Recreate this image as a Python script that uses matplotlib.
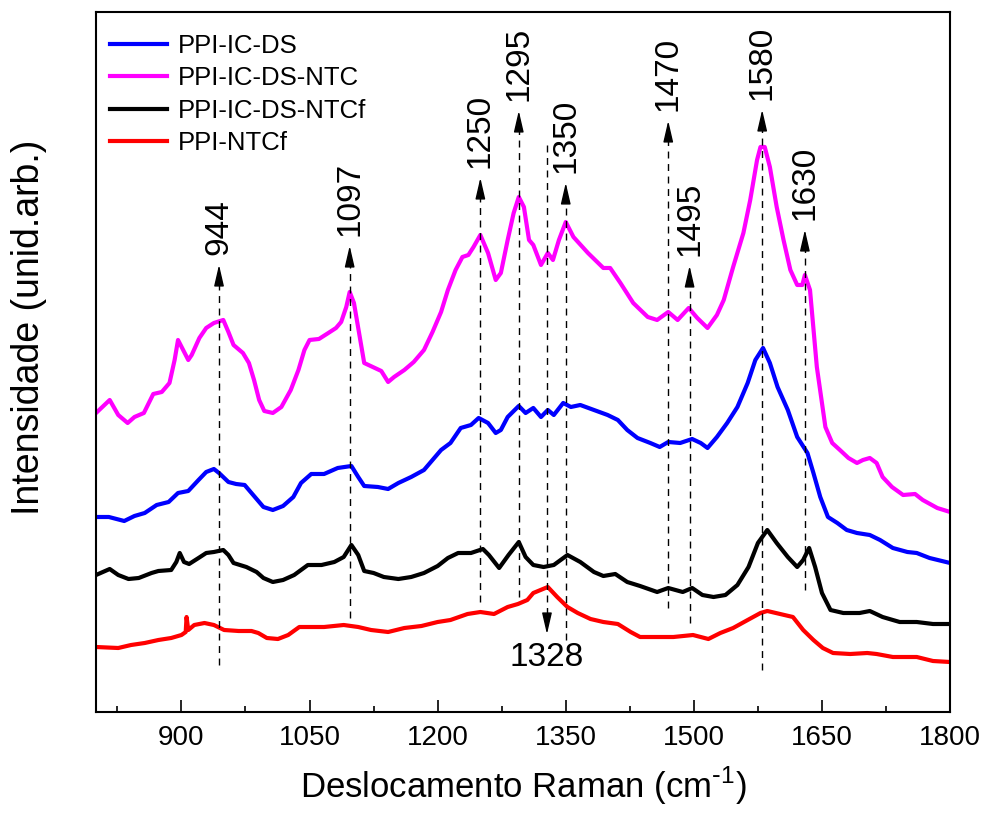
import numpy as np
import matplotlib
matplotlib.use('Agg')
import matplotlib.pyplot as plt

plt.rcParams['font.family'] = ['Liberation Sans', 'DejaVu Sans']

# Raman spectra (intensity in arbitrary units, offset stacked)
wn_ntc = [800, 816, 826, 837, 845, 856, 867, 877, 886, 892, 896, 902, 908, 912, 921, 929, 938, 949,
          955, 961, 972, 979, 985, 991, 997, 1007, 1017, 1028, 1037, 1044, 1050, 1061, 1072, 1081,
          1087, 1093, 1097, 1102, 1108, 1114, 1124, 1134, 1142, 1149, 1161, 1172, 1184, 1194, 1204,
          1212, 1221, 1229, 1236, 1242, 1250, 1259, 1268, 1274, 1282, 1289, 1295, 1301, 1307, 1312,
          1321, 1329, 1335, 1342, 1350, 1359, 1376, 1394, 1402, 1414, 1429, 1446, 1457, 1470, 1481,
          1494, 1504, 1516, 1527, 1535, 1546, 1558, 1566, 1574, 1578, 1583, 1589, 1597, 1605, 1613,
          1621, 1627, 1630, 1636, 1644, 1654, 1662, 1671, 1681, 1691, 1698, 1706, 1714, 1721, 1732,
          1745, 1759, 1768, 1785, 1800]
i_ntc = [299, 312, 297, 289, 295, 299, 318, 320, 329, 352, 372, 362, 352, 357, 374, 384, 389, 392,
         380, 367, 359, 349, 332, 312, 301, 299, 305, 322, 342, 362, 372, 373, 379, 384,
         390, 405, 420, 409, 379, 349, 345, 341, 330, 335, 342, 350, 362, 380, 400,
         422, 442, 455, 457, 465, 477, 459, 432, 439, 472, 499, 515, 505, 472, 467,
         447, 459, 452, 472, 490, 475, 459, 444, 444, 429, 409, 395, 392, 400, 392,
         404, 394, 384, 397, 412, 445, 479, 512, 552, 565, 565, 545, 505, 472, 442,
         427, 427, 437, 422, 345, 285, 269, 262, 254, 249, 252, 254, 249, 235, 225,
         217, 218, 212, 204, 200]

wn_ds = [800, 815, 833, 845, 857, 871, 885, 896, 908, 920, 929, 938, 944, 955, 964, 974, 985, 996,
         1007, 1019, 1031, 1040, 1052, 1067, 1083, 1099, 1107, 1114, 1130, 1142, 1154, 1169, 1184,
         1204, 1215, 1227, 1239, 1248, 1259, 1268, 1274, 1282, 1295, 1303, 1312, 1321, 1329, 1336,
         1347, 1356, 1367, 1383, 1399, 1411, 1422, 1434, 1449, 1460, 1470, 1484, 1498, 1508, 1516,
         1527, 1539, 1551, 1563, 1572, 1581, 1589, 1598, 1610, 1621, 1633, 1640, 1648, 1657, 1668,
         1679, 1691, 1706, 1718, 1733, 1750, 1761, 1776, 1800]
i_ds = [195, 195, 191, 196, 199, 207, 210, 219, 221, 232, 240, 243, 239, 230, 228, 227, 216, 205,
        202, 206, 215, 229, 238, 238, 244, 246, 235, 226, 225, 223, 229, 235, 242,
        262, 269, 284, 287, 294, 289, 279, 282, 295, 306, 299, 304, 295, 302, 297,
        309, 305, 307, 302, 297, 292, 282, 274, 269, 265, 270, 269, 273, 269, 264,
        275, 289, 305, 329, 352, 364, 349, 325, 302, 275, 259, 239, 215, 195, 189,
        182, 179, 177, 172, 164, 160, 159, 154, 149]

wn_ntcf = [800, 816, 826, 838, 850, 865, 873, 888, 894, 898, 903, 909, 920, 929, 938, 949, 955, 961,
           976, 988, 996, 1007, 1019, 1032, 1048, 1064, 1079, 1090, 1099, 1107, 1114, 1125, 1137,
           1154, 1169, 1184, 1200, 1212, 1224, 1239, 1253, 1260, 1272, 1283, 1295, 1303, 1312, 1324,
           1336, 1352, 1367, 1383, 1394, 1408, 1422, 1437, 1457, 1470, 1487, 1498, 1510, 1523, 1537,
           1551, 1564, 1575, 1586, 1597, 1610, 1621, 1628, 1635, 1642, 1650, 1660, 1675, 1694, 1706,
           1721, 1741, 1761, 1780, 1800]
i_ntcf = [137, 143, 137, 133, 134, 139, 141, 142, 150, 159, 150, 148, 154, 159, 160, 162, 157, 149,
          145, 140, 134, 130, 132, 137, 147, 147, 150, 155, 167, 157, 141, 139, 135,
          133, 135, 139, 146, 154, 159, 159, 163, 157, 144, 157, 170, 155, 147, 145,
          147, 157, 150, 140, 136, 138, 130, 126, 120, 124, 120, 124, 117, 115, 117,
          127, 145, 169, 182, 169, 155, 145, 152, 164, 145, 119, 102, 99, 99, 101,
          95, 90, 90, 88, 88]

wn_ppi = [800, 826, 841, 857, 873, 888, 900, 905, 906, 908, 915, 927, 938, 950, 967, 982, 990, 1000,
          1013, 1025, 1038, 1052, 1067, 1090, 1107, 1122, 1142, 1161, 1181, 1200, 1215, 1235, 1250,
          1266, 1282, 1294, 1305, 1312, 1329, 1340, 1352, 1364, 1379, 1394, 1411, 1426, 1437, 1457,
          1476, 1499, 1517, 1531, 1546, 1563, 1578, 1586, 1601, 1616, 1628, 1640, 1651, 1663, 1683,
          1703, 1714, 1733, 1761, 1780, 1800]
i_ppi = [65, 64, 67, 69, 72, 74, 77, 80, 95, 82, 87, 89, 87, 82, 81, 81, 79, 74,
         73, 77, 85, 85, 85, 87, 85, 82, 80, 84, 86, 90, 92, 98, 100,
         98, 105, 108, 112, 119, 125, 115, 105, 99, 93, 90, 88, 80, 75, 75,
         75, 77, 73, 79, 84, 92, 99, 101, 98, 95, 82, 72, 64, 59, 58,
         59, 58, 55, 55, 51, 50]

# peak markers: position, dashed line bottom, arrow tip
peak_pos = [944, 1097, 1250, 1295, 1350, 1470, 1495, 1580, 1630]
peak_low = [47, 94, 110, 115, 72, 104, 89, 42, 122]
peak_tip = [450, 469, 537, 604, 532, 594, 449, 605, 485]

fig = plt.figure(figsize=(9.83, 8.14), dpi=100)
ax = fig.add_axes([0.0977, 0.1253, 0.8688, 0.86])

ax.plot(wn_ds, i_ds, color='#0000ff', lw=3.0, label='PPI-IC-DS')
ax.plot(wn_ntc, i_ntc, color='#ff00ff', lw=3.0, label='PPI-IC-DS-NTC')
ax.plot(wn_ntcf, i_ntcf, color='black', lw=3.0, label='PPI-IC-DS-NTCf')
ax.plot(wn_ppi, i_ppi, color='#ff0000', lw=3.0, label='PPI-NTCf')

dash = (0, (5, 4))
for p, lo, tip in zip(peak_pos, peak_low, peak_tip):
    ax.plot([p, p], [lo, tip - 14], color='black', lw=1.0, linestyle=dash)
    ax.annotate('', xy=(p, tip), xytext=(p, tip - 16),
                arrowprops=dict(arrowstyle='-|>,head_length=1.3,head_width=0.3',
                                color='black', lw=1, mutation_scale=10))
    ax.text(p, tip + 7, str(p), rotation=90, ha='center', va='bottom', fontsize=24)

# 1328 points downwards
ax.plot([1328, 1328], [567, 75 + 14], color='black', lw=1.0, linestyle=dash)
ax.annotate('', xy=(1328, 75), xytext=(1328, 75 + 16),
            arrowprops=dict(arrowstyle='-|>,head_length=1.3,head_width=0.3',
                            color='black', lw=1, mutation_scale=10))
ax.text(1328, 70, '1328', ha='center', va='top', fontsize=24)

ax.set_xlim(800, 1800)
ax.set_ylim(0, 700)
ax.set_xticks(np.arange(900, 1801, 150))
ax.set_xticks(np.arange(825, 1800, 150), minor=True)
ax.set_yticks([])
ax.tick_params(axis='x', which='major', direction='in', length=8.5, width=1.2,
               labelsize=20, pad=9)
ax.tick_params(axis='x', which='minor', direction='in', length=4.3, width=1.2)
for s in ax.spines.values():
    s.set_linewidth(1.5)

ax.set_xlabel(r'Deslocamento Raman (cm$^{\mathregular{\text{-}1}}$)', fontsize=25, labelpad=10)
ax.set_ylabel('Intensidade (unid.arb.)', fontsize=27)
ax.yaxis.set_label_coords(-0.058, 0.55)

leg = ax.legend(loc='upper left', bbox_to_anchor=(0.0164, 0.9686), frameon=False,
                fontsize=18.5, handlelength=2.2, handletextpad=0.45, labelspacing=0.33,
                borderpad=0, borderaxespad=0)

fig.savefig('out.png', dpi=100)
